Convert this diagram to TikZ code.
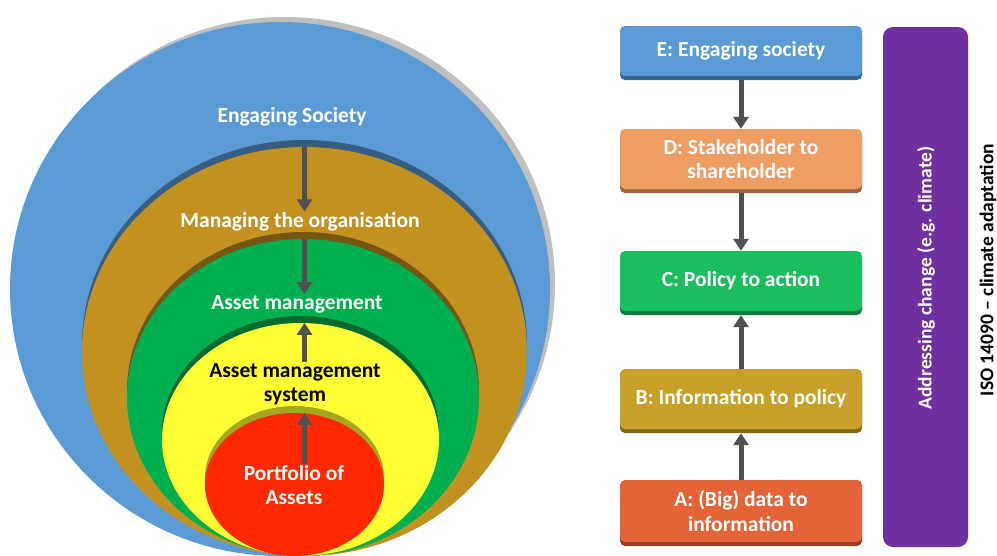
\documentclass[tikz,border=0pt]{standalone}
\usepackage{fontspec}
\setmainfont{Carlito}
\usetikzlibrary{arrows.meta,positioning,shapes.geometric}
\definecolor{csoc}{RGB}{91,155,213}
\definecolor{corg}{RGB}{194,145,32}
\definecolor{cam}{RGB}{0,176,80}
\definecolor{csys}{RGB}{255,255,51}
\definecolor{cpfl}{RGB}{255,40,0}
\definecolor{cdbox}{RGB}{238,158,98}
\definecolor{ccbox}{RGB}{26,190,94}
\definecolor{cbbox}{RGB}{200,160,40}
\definecolor{cabox}{RGB}{228,100,56}
\definecolor{cpurple}{RGB}{112,48,160}
\definecolor{carrow}{RGB}{80,80,80}
\tikzset{
  ring/.style={ellipse, inner sep=0pt, fill=#1},
  rim/.style={preaction={fill=#1, transform canvas={yshift=7pt}}},
  lbl/.style={font=\bfseries\fontsize{21.5}{24.5}\selectfont, text=white, align=center, inner sep=1pt},
  vlbl/.style={font=\bfseries\fontsize{19.5}{23}\selectfont, rotate=90, inner sep=1pt},
  arr/.style={-{Triangle[width=15pt,length=12pt]}, line width=5pt, carrow},
  stepbox/.style={fill=#1, rounded corners=5pt, minimum width=242pt, inner sep=2pt,
    preaction={fill=#1!65!black, transform canvas={yshift=-4pt}}},
}
\begin{document}
\begin{tikzpicture}[x=1pt, y=-1pt]
  \useasboundingbox (0,0) rectangle (997,555);
  \clip (0,0) rectangle (997,555);
  % nested rings
  \node[ring=csoc, minimum width=540pt, minimum height=534pt,
    preaction={fill=black!25, transform canvas={xshift=5pt, yshift=5pt}}] (soc) at (280,289) {};
  \node[ring=corg, rim=csoc!60!black, minimum width=445pt, minimum height=409pt] (org) at (304.5,351.5) {};
  \node[ring=cam, rim=corg!60!black, minimum width=352pt, minimum height=317pt] (am) at (303,397.5) {};
  \node[ring=csys, rim=cam!60!black, minimum width=277pt, minimum height=233pt] (sys) at (300.5,439.5) {};
  \node[ring=cpfl, rim=csys!65!black, minimum width=179pt, minimum height=143pt] (pfl) at (294.5,484.5) {};

  \node[lbl] (soctxt) at (292,117) {Engaging Society};
  \node[lbl] (orgtxt) at (300,222) {Managing the organisation};
  \node[lbl] (amtxt) at (297,304) {Asset management};
  \node[lbl, text=black] (systxt) at (295,384) {Asset management\\system};
  \node[lbl] (pfltxt) at (294,485) {Portfolio of\\Assets};

  \draw[arr] (org.north) -- (org.north |- orgtxt.north);
  \draw[arr] (am.north -| org.north) -- (org.north |- amtxt.north);
  \draw[arr] (org.north |- systxt.north) -- (org.north |- sys.north);
  \draw[arr] (org.north |- pfltxt.north) -- (org.north |- pfl.north);

  % steps
  \node[stepbox=csoc, minimum height=50pt, lbl] (e) at (741,51) {E: Engaging society};
  \node[stepbox=cdbox, minimum height=60pt, lbl] (d) at (741,159) {D: Stakeholder to\\shareholder};
  \node[stepbox=ccbox, minimum height=60pt, lbl] (c) at (741,281) {C: Policy to action};
  \node[stepbox=cbbox, minimum height=60pt, lbl] (b) at (741,399) {B: Information to policy};
  \node[stepbox=cabox, minimum height=62pt, lbl] (a) at (741,511) {A: (Big) data to\\information};

  \draw[arr] ([yshift=-4pt]e.south) -- (d.north);
  \draw[arr] ([yshift=-4pt]d.south) -- (c.north);
  \draw[arr] (b.north) -- ([yshift=-4pt]c.south);
  \draw[arr] (a.north) -- ([yshift=-4pt]b.south);

  \node[fill=cpurple, rounded corners=10pt, minimum width=85pt, minimum height=520pt] (chg) at (925.5,287) {};
  \node[vlbl, text=white] (chgtxt) at (926,278) {Addressing change (e.g. climate)};
  \node[vlbl] (iso) at (988,270) {ISO 14090 – climate adaptation};
\end{tikzpicture}
\end{document}
